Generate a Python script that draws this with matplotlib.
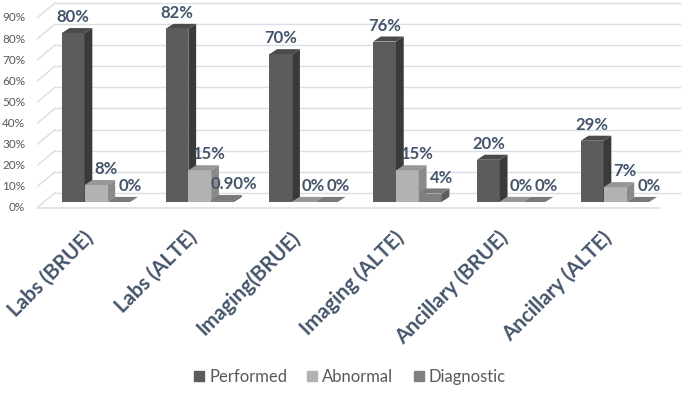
import matplotlib
matplotlib.use("Agg")
import matplotlib.pyplot as plt
from matplotlib.patches import Patch

# data
categories = ["Labs (BRUE)", "Labs (ALTE)", "Imaging(BRUE)", "Imaging (ALTE)",
              "Ancillary (BRUE)", "Ancillary (ALTE)"]
performed = [80, 82, 70, 76, 20, 29]
abnormal = [8, 15, 0, 15, 0, 7]
diagnostic = [0, 0.9, 0, 4, 0, 0]
series_names = ["Performed", "Abnormal", "Diagnostic"]
yticks = [0, 10, 20, 30, 40, 50, 60, 70, 80, 90]

plt.rcParams['font.family'] = ['Lato', 'DejaVu Sans']

label_col = "#44546A"
tick_col = "#595959"
grid_col = "#D9DEE8"

# face colours (front, side, top) for each series
faces = [("#5c5c5c", "#3a3a3a", "#4b4b4b"),
         ("#b2b2b2", "#8a8a8a", "#969696"),
         ("#808080", "#5e5e5e", "#7a7a7a")]
offsets = [-0.22, 0.0, 0.22]
lab_dx = [0, 7, 8.5]   # label shift in points
w = 0.22
dx, dy = 0.075, 2.4       # fake 3d depth
front_off, back_off = -2.8, 4.3

W, H = 684, 393
fig = plt.figure(figsize=(W / 100, H / 100), dpi=100)
ax = fig.add_axes([37 / W, (H - 214) / H, (684 - 37) / W, 214 / H])
ax.set_xlim(-0.568, 5.665)
ax.set_ylim(-5.7, 95.7)

# back wall grid with slanted left side
for t in yticks:
    ax.plot([-0.395, 5.626], [t + back_off, t + back_off], color=grid_col, lw=1, zorder=0.5)
    ax.plot([-0.568, -0.395], [t + front_off, t + back_off], color=grid_col, lw=1, zorder=0.5)
ax.plot([-0.568, 5.433], [front_off, front_off], color=grid_col, lw=1.2, zorder=0.5)

data = [performed, abnormal, diagnostic]
for s, vals in enumerate(data):
    fc, sc, tc = faces[s]
    z = 2 + s
    xs = [i + offsets[s] for i in range(len(categories))]
    ax.bar(xs, vals, width=w, color=fc, zorder=z, linewidth=0)
    for x, v in zip(xs, vals):
        x0, x1 = x - w / 2, x + w / 2
        ax.fill([x1, x1 + dx, x1 + dx, x1], [0, dy, v + dy, v], color=sc, lw=0, zorder=z)
        ax.fill([x0, x1, x1 + dx, x0 + dx], [v, v, v + dy, v + dy], color=tc, lw=0, zorder=z)
        txt = f"{v:.0f}%" if float(v).is_integer() else f"{v:.2f}%"
        ax.annotate(txt, (x, v), xytext=(lab_dx[s], 11.5), textcoords="offset points",
                    ha="center", va="center", fontsize=12, fontweight="bold",
                    color=label_col, zorder=10)

# y tick labels sit on the front edge
for t in yticks:
    ax.text(-0.68, t + front_off, f"{t}%", ha="right", va="center",
            fontsize=8.5, color=tick_col, clip_on=False)

for i, c in enumerate(categories):
    ax.text(i + 0.01, -12, c, rotation=45, ha="right", va="top",
            fontsize=14.8, fontweight="bold", color=label_col, clip_on=False)

ax.axis("off")

handles = [Patch(color=faces[k][0]) for k in range(3)]
fig.legend(handles, series_names, loc="center", bbox_to_anchor=(350 / W, 1 - 377 / H),
           ncol=3, frameon=False, handlelength=0.6, handleheight=0.6,
           handletextpad=0.3, columnspacing=1.2, fontsize=12, labelcolor=tick_col)

fig.savefig("out.png", dpi=100, facecolor="white")
